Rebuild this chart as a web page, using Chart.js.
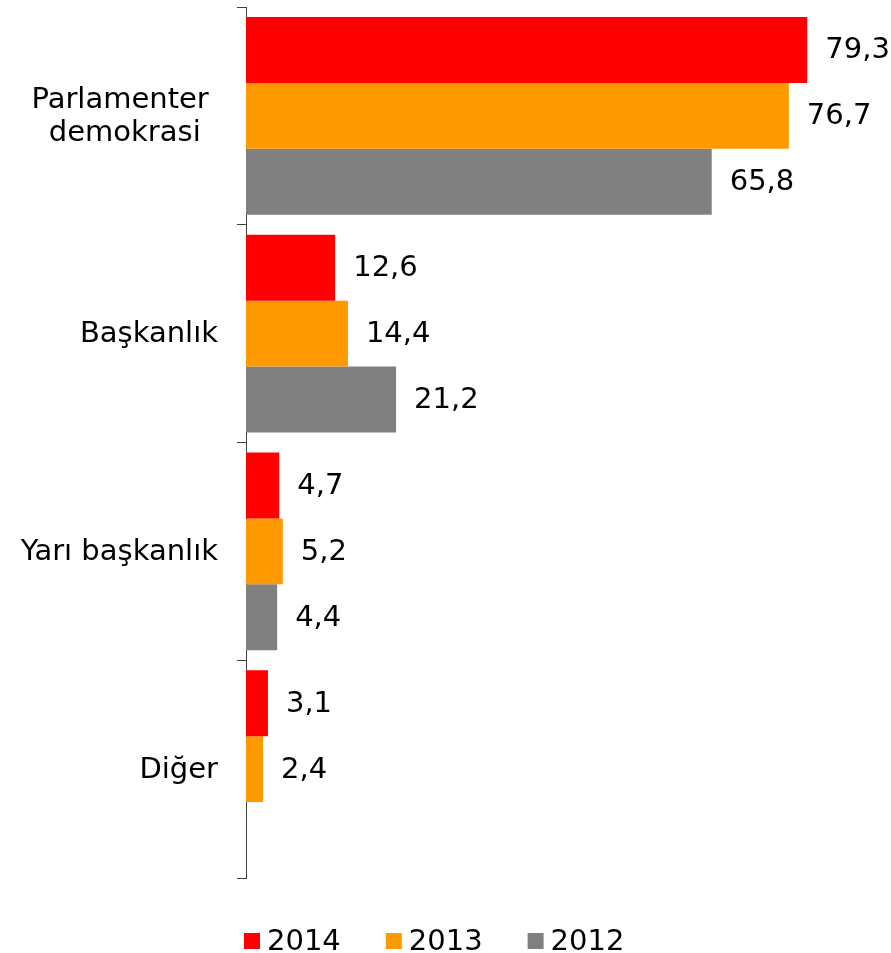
<!DOCTYPE html>
<html>
<head>
<meta charset="utf-8">
<script src="https://cdn.jsdelivr.net/npm/chart.js@4"></script>
<style>
  html, body { margin: 0; padding: 0; background: #ffffff; }
  #wrap { width: 891px; height: 953px; }
</style>
</head>
<body>
<div id="wrap"><canvas id="c" width="891" height="953"></canvas></div>
<script>
const categories = [["Parlamenter ", "demokrasi"], "Başkanlık", "Yarı başkanlık", "Diğer"];
const seriesNames = ["2014", "2013", "2012"];
const values2014 = [79.3, 12.6, 4.7, 3.1];
const values2013 = [76.7, 14.4, 5.2, 2.4];
const values2012 = [65.8, 21.2, 4.4, null];
const colors = ["#FF0000", "#FF9900", "#808080"];

const FONT = "'DejaVu Sans', Verdana, sans-serif";
const FS = 29;

const valueLabels = {
  id: 'valueLabels',
  afterDatasetsDraw(chart) {
    const ctx = chart.ctx;
    ctx.save();
    ctx.font = FS + 'px ' + FONT;
    ctx.fillStyle = '#000000';
    ctx.textAlign = 'left';
    ctx.textBaseline = 'middle';
    chart.data.datasets.forEach((ds, di) => {
      const meta = chart.getDatasetMeta(di);
      meta.data.forEach((bar, i) => {
        const v = ds.data[i];
        if (v === null || v === undefined) return;
        ctx.fillText(v.toFixed(1).replace('.', ','), bar.x + 18, bar.y + 1);
      });
    });
    ctx.restore();
  }
};

const catLabels = {
  id: 'catLabels',
  afterDraw(chart) {
    const scale = chart.scales.y;
    const ctx = chart.ctx;
    ctx.save();
    ctx.font = FS + 'px ' + FONT;
    ctx.fillStyle = '#000000';
    ctx.textBaseline = 'middle';
    ctx.textAlign = 'center';
    const lh = 33;
    const right = scale.right - 28;
    categories.forEach((lab, i) => {
      const lines = Array.isArray(lab) ? lab : [lab];
      const y = scale.getPixelForValue(i);
      const w = Math.max(...lines.map(l => ctx.measureText(l).width));
      const cx = right - w / 2;
      lines.forEach((l, k) => {
        ctx.fillText(l, cx, y + 1 + (k - (lines.length - 1) / 2) * lh);
      });
    });
    ctx.restore();
  }
};

const bottomLegend = {
  id: 'bottomLegend',
  afterDraw(chart) {
    const ctx = chart.ctx;
    ctx.save();
    ctx.font = FS + 'px ' + FONT;
    ctx.textBaseline = 'middle';
    ctx.textAlign = 'left';
    const box = 16, gap = 7, spacing = 45;
    const yMid = 941;
    let x = chart.chartArea.left - 2;
    chart.data.datasets.forEach((ds) => {
      ctx.fillStyle = ds.backgroundColor;
      ctx.fillRect(x, yMid - box / 2, box, box);
      ctx.fillStyle = '#000000';
      ctx.fillText(ds.label, x + box + gap, yMid + 1);
      x += box + gap + ctx.measureText(ds.label).width + spacing;
    });
    ctx.restore();
  }
};

new Chart(document.getElementById('c'), {
  type: 'bar',
  data: {
    labels: categories,
    datasets: [
      { label: seriesNames[0], data: values2014, backgroundColor: colors[0] },
      { label: seriesNames[1], data: values2013, backgroundColor: colors[1] },
      { label: seriesNames[2], data: values2012, backgroundColor: colors[2] }
    ]
  },
  options: {
    indexAxis: 'y',
    responsive: false,
    animation: false,
    devicePixelRatio: 1,
    layout: { padding: { top: 7, right: 8, left: 0, bottom: 75 } },
    datasets: { bar: { categoryPercentage: 0.909, barPercentage: 1.0, borderWidth: 0 } },
    scales: {
      x: { display: false, min: 0, max: 90 },
      y: {
        afterFit(scale) { scale.width = 246; },
        border: { display: true, color: '#404040', width: 1 },
        grid: { display: true, drawOnChartArea: false, drawTicks: true, tickLength: 9, color: '#404040', offset: true },
        ticks: { display: false }
      }
    },
    plugins: {
      legend: { display: false },
      tooltip: { enabled: false }
    }
  },
  plugins: [valueLabels, catLabels, bottomLegend]
});
</script>
</body>
</html>
